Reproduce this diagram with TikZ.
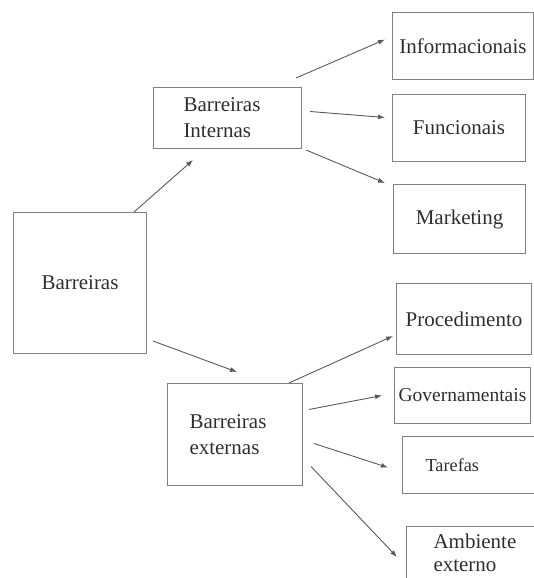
\documentclass[tikz,border=0pt]{standalone}
\usepackage{fontspec}
\setmainfont{Liberation Serif}
\usepackage{tikz}
\usetikzlibrary{arrows.meta, positioning}
\definecolor{boxGray}{HTML}{808080}
\definecolor{lineGray}{HTML}{5A5A5A}
\definecolor{txtDark}{HTML}{2E2E2E}

\begin{document}
\begin{tikzpicture}[x=1pt, y=-1pt,
    box/.style={draw=boxGray, line width=1pt, inner sep=0pt, anchor=north west,
      text=txtDark, font=\fontsize{21}{26}\selectfont, align=left},
    arr/.style={draw=lineGray, line width=0.9pt, -{Latex[length=7pt,width=5pt]}}]
  \useasboundingbox (0,0) rectangle (534,578);
  % left column
  \node[box, minimum width=133pt, minimum height=141pt] (bar) at (13,212) {Barreiras};
  \node[box, minimum height=61pt, inner xsep=30pt, text width=88pt] (int) at (153,87) {Barreiras\\Internas};
  \node[box, minimum height=102pt, inner xsep=22pt, text width=91pt] (ext) at (167,383) {Barreiras\\externas};
  % right column, internas
  \node[box, minimum width=141pt, minimum height=67pt] (inf) at (392,12) {Informacionais};
  \node[box, minimum width=133pt, minimum height=67pt] (fun) at (392,94) {Funcionais};
  \node[box, minimum width=132pt, minimum height=69pt] (mkt) at (393,184) {Marketing};
  % right column, externas
  \node[box, minimum width=135pt, minimum height=71pt] (pro) at (396,283) {Procedimento};
  \node[box, minimum width=136pt, minimum height=56pt,
    font=\fontsize{19.5}{24}\selectfont] (gov) at (394,367) {Governamentais};
  \node[box, minimum height=57pt, inner xsep=23pt, text width=97pt,
    font=\fontsize{18.3}{22}\selectfont] (tar) at (402,436) {Tarefas};
  \node[box, minimum height=52pt, inner xsep=27pt, text width=100pt,
    font=\fontsize{21}{23}\selectfont] (amb) at (406,526) {Ambiente\\externo};

  \draw[arr] ([shift={(-13,0)}]bar.north east) -- ([shift={(40,11)}]int.south west);
  \draw[arr] ([shift={(6,-13)}]bar.south east) -- ([shift={(70,-11)}]ext.north west);
  \draw[arr] ([shift={(-6,-9)}]int.north east) -- ([shift={(-7,-6.5)}]inf.west);
  \draw[arr] ([shift={(8,-6.5)}]int.east) -- ([shift={(-7,-10.5)}]fun.west);
  \draw[arr] ([shift={(4,1)}]int.south east) -- ([shift={(-8,-1)}]mkt.north west);
  \draw[arr] ([shift={(-14,0)}]ext.north east) -- ([shift={(-3,-19)}]pro.south west);
  \draw[arr] ([shift={(6,-25)}]ext.east) -- ([shift={(-12,0)}]gov.west);
  \draw[arr] ([shift={(11,9)}]ext.east) -- ([shift={(-14,2.5)}]tar.west);
  \draw[arr] ([shift={(8,32)}]ext.east) -- ([shift={(-9,31)}]amb.north west);
\end{tikzpicture}
\end{document}
